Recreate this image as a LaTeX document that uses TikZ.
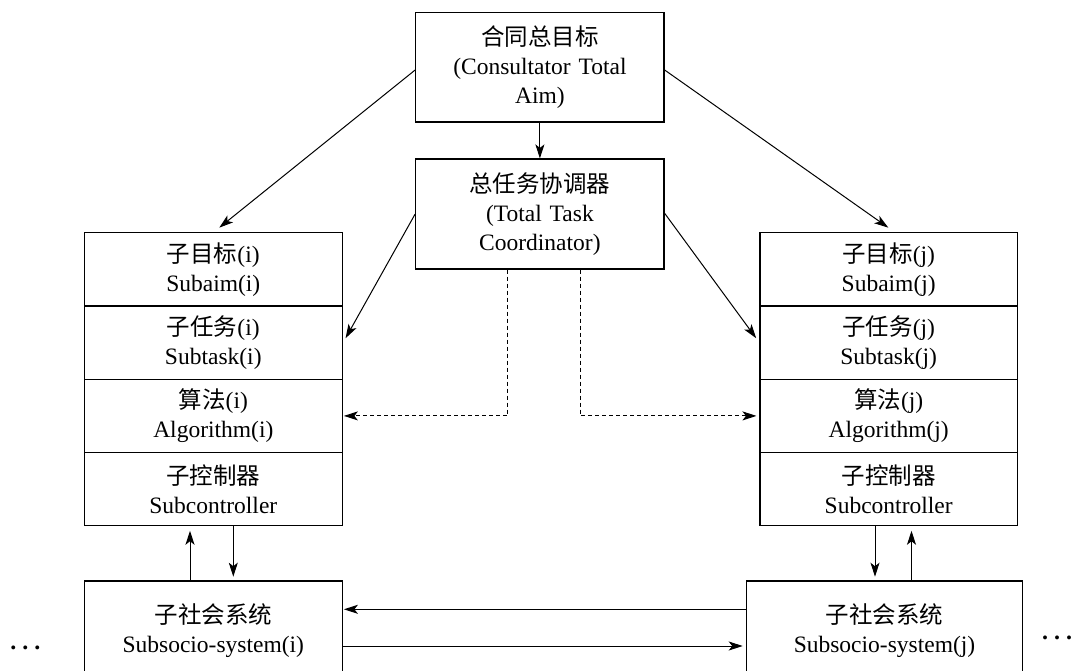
\documentclass[tikz,border=0pt]{standalone}
\usepackage{fontspec}
\setmainfont{Liberation Serif}
\newfontfamily\cjk{Noto Sans CJK SC}
\usetikzlibrary{arrows.meta}
\newcommand\zh[1]{{\cjk #1}}
\newcommand\dotrow{.\hspace{6pt}.\hspace{6pt}.}
\begin{document}
\begin{tikzpicture}[x=1pt,y=-1pt,
  font=\fontsize{23.5}{29}\selectfont,
  box/.style={draw, line width=1.2pt, inner sep=0pt, align=center, text width=#1},
  cell/.style={box=#1, minimum height=73.3pt},
  arr/.style={line width=1pt, -{Stealth[length=14pt,width=9pt,inset=3.5pt]}},
  dasharr/.style={arr, dash pattern=on 4pt off 3pt},
  dots/.style={inner sep=0pt, font=\fontsize{24}{29}\selectfont\bfseries}
]
\useasboundingbox (0,0) rectangle (1071,670);

% top-level goal and coordinator
\node[box=248.3pt, minimum height=109.3pt] (aim) at (539.9,67.3)
  {\zh{合同总目标}\\(Consultator Total\\Aim)};
\node[box=248.3pt, minimum height=110pt] (coord) at (539.9,214)
  {\zh{总任务协调器}\\(Total Task\\Coordinator)};

% left stack (i)
\node[cell=258pt] (li1) at (213.3,269.3) {\zh{子目标}(i)\\Subaim(i)};
\node[cell=258pt] (li2) at (213.3,342.6) {\zh{子任务}(i)\\Subtask(i)};
\node[cell=258pt] (li3) at (213.3,415.9) {\zh{算法}(i)\\Algorithm(i)};
\node[cell=258pt] (li4) at (213.3,489.2) {\zh{子控制器}\\Subcontroller};

% right stack (j)
\node[cell=257.3pt] (rj1) at (888.7,269.3) {\zh{子目标}(j)\\Subaim(j)};
\node[cell=257.3pt] (rj2) at (888.7,342.6) {\zh{子任务}(j)\\Subtask(j)};
\node[cell=257.3pt] (rj3) at (888.7,415.9) {\zh{算法}(j)\\Algorithm(j)};
\node[cell=257.3pt] (rj4) at (888.7,489.2) {\zh{子控制器}\\Subcontroller};

% sub-social systems
\node[box=258pt, minimum height=99pt] (lsub) at (213.3,630.5)
  {\zh{子社会系统}\\Subsocio-system(i)};
\node[box=275.6pt, minimum height=99pt] (rsub) at (884.5,630.5)
  {\zh{子社会系统}\\Subsocio-system(j)};

% ellipses on both sides
\node[dots] (dl) at (25.3,648) {\dotrow};
\node[dots] (dr) at (1057,638.3) {\dotrow};

% goal decomposition
\draw[arr] (aim.south) -- (coord.north);
\draw[arr] ([yshift=-2.7pt]aim.west) -- ([xshift=6pt,yshift=4.4pt]li1.north);
\draw[arr] ([yshift=-2.7pt]aim.east) -- ([xshift=-0.4pt,yshift=4.4pt]rj1.north);

% task assignment
\draw[arr] (coord.west) -- ([xshift=2.7pt,yshift=4.4pt]li2.east);
\draw[arr] ([yshift=0.7pt]coord.east) -- ([xshift=-3.3pt,yshift=4.4pt]rj2.west);

% algorithm coordination (dashed)
\draw[dasharr, shorten >=1pt] ([xshift=-32.6pt]coord.south) |- (li3.east);
\draw[dasharr, shorten >=3pt] ([xshift=40.8pt]coord.south) |- (rj3.west);

% controller <-> subsystem loops
\draw[arr, shorten >=4.3pt] ([xshift=-23.3pt]lsub.north) coordinate (lu) -- (lu |- li4.south);
\draw[arr, shorten >=3.7pt] ([xshift=20pt]li4.south) coordinate (ld) -- (ld |- lsub.north);
\draw[arr, shorten >=3.7pt] ([xshift=-13.7pt]rj4.south) coordinate (rd) -- (rd |- rsub.north);
\draw[arr, shorten >=4.3pt] ([xshift=27pt]rsub.north) coordinate (ru) -- (ru |- rj4.south);

% interaction between subsystems
\draw[arr, shorten >=1pt] ([yshift=21.2pt]rsub.west) -- ([yshift=21.2pt]lsub.east);
\draw[arr, shorten >=3.4pt] ([yshift=-15.5pt]lsub.east) -- ([yshift=-15.5pt]rsub.west);
\end{tikzpicture}
\end{document}
